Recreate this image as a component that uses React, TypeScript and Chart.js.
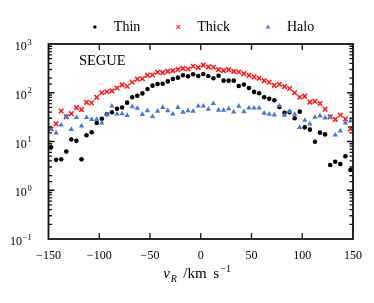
import React, { useEffect, useRef } from 'react';
import { Chart, registerables } from 'chart.js';

Chart.register(...registerables);

const SERIF = "'Liberation Serif', 'Times New Roman', serif";

// Bin centres of the radial velocity v_R (km/s)
const vR = [
  -147.5, -142.5, -137.5, -132.5, -127.5, -122.5, -117.5, -112.5, -107.5, -102.5,
  -97.5, -92.5, -87.5, -82.5, -77.5, -72.5, -67.5, -62.5, -57.5, -52.5,
  -47.5, -42.5, -37.5, -32.5, -27.5, -22.5, -17.5, -12.5, -7.5, -2.5,
  2.5, 7.5, 12.5, 17.5, 22.5, 27.5, 32.5, 37.5, 42.5, 47.5,
  52.5, 57.5, 62.5, 67.5, 72.5, 77.5, 82.5, 87.5, 92.5, 97.5,
  102.5, 107.5, 112.5, 117.5, 122.5, 127.5, 132.5, 137.5, 142.5, 147.5,
];

const thin = [
  7.6, 4.2, 4.3, 6.2, 11.0, 10.3, 4.3, 13.4, 15.5, 23.9,
  29.2, 36.3, 39.7, 47.1, 49.7, 62.6, 80.6, 87, 97, 119,
  140, 151, 153, 171, 191, 204, 228, 217, 239, 221,
  243, 220, 198, 224, 177, 177, 177, 138, 148, 125,
  104, 98, 81, 75, 70, 51, 39, 40, 30, 41,
  19.5, 17.5, 9.9, 15.2, 14.0, 3.3, 3.85, 3.45, 5.0, 2.6,
];

const thick = [
  18, 23.2, 42.2, 32, 37.2, 49.4, 45, 63.7, 61.6, 80.6,
  100, 105, 109, 125, 145, 136, 164, 191, 194, 228,
  231, 263, 258, 275, 284, 297, 317, 307, 349, 327,
  370, 340, 333, 297, 284, 297, 275, 267, 246, 228,
  211, 198, 177, 164, 142, 149, 134, 122, 100, 81,
  85, 64, 67, 60, 46, 32, 28.5, 35, 29, 18.2,
];

const halo = [
  18, 14.9, 21.8, 32.3, 17.7, 31, 20.8, 31, 28.5, 28.5,
  24, 35.8, 53.5, 36.6, 37, 34.4, 51.8, 48, 36, 43,
  32.5, 42, 50, 43, 36.6, 50, 40, 43, 42, 53.5,
  53.5, 46, 60, 44, 44, 47, 40.5, 53, 41, 48.5,
  48.7, 48.7, 38.2, 36.4, 35.2, 54, 34.8, 41.5, 36.3, 19.5,
  27.2, 22.9, 31.4, 33.4, 30.4, 31.8, 13.6, 16.4, 24, 26.3,
];

const seriesNames = ['Thin', 'Thick', 'Halo'];
const seriesColors = ['#000000', '#ff1a1a', '#4679d6'];
const yTickExps = [-1, 0, 1, 2, 3];
const yTickBase = '10';
const yTickExpText = ['\u22121', '0', '1', '2', '3'];
const annotation = 'SEGUE';
const xTitleParts = ['v', 'R', '/km', 's', '\u22121'];

function makeLegendImg(kind: number, color: string): HTMLCanvasElement {
  const c = document.createElement('canvas');
  c.width = 24;
  c.height = 10;
  const g = c.getContext('2d')!;
  const cx = 20;
  const cy = 5;
  g.fillStyle = color;
  g.strokeStyle = color;
  if (kind === 0) {
    g.beginPath();
    g.arc(cx, cy, 1.7, 0, Math.PI * 2);
    g.fill();
  } else if (kind === 1) {
    g.lineWidth = 1.1;
    g.beginPath();
    g.moveTo(cx - 1.8, cy - 1.8);
    g.lineTo(cx + 1.8, cy + 1.8);
    g.moveTo(cx + 1.8, cy - 1.8);
    g.lineTo(cx - 1.8, cy + 1.8);
    g.stroke();
  } else {
    g.beginPath();
    g.moveTo(cx, cy - 2.4);
    g.lineTo(cx - 2.2, cy + 1.6);
    g.lineTo(cx + 2.2, cy + 1.6);
    g.closePath();
    g.fill();
  }
  return c;
}

const decorPlugin = {
  id: 'decor',
  afterDatasetsDraw(chart: any) {
    const { ctx, chartArea: a, scales } = chart;
    const xs = scales.x;
    const ys = scales.y;
    ctx.save();
    ctx.strokeStyle = '#111';
    ctx.lineWidth = 1.3;
    ctx.beginPath();
    xs.ticks.forEach((t: any) => {
      const px = xs.getPixelForValue(t.value);
      if (px <= a.left + 1 || px >= a.right - 1) return;
      ctx.moveTo(px, a.bottom);
      ctx.lineTo(px, a.bottom - 6);
      ctx.moveTo(px, a.top);
      ctx.lineTo(px, a.top + 6);
    });
    ys.ticks.forEach((t: any) => {
      const py = ys.getPixelForValue(t.value);
      if (py <= a.top + 1 || py >= a.bottom - 1) return;
      const lg = Math.log10(t.value);
      const major = Math.abs(lg - Math.round(lg)) < 1e-6;
      const len = major ? 6 : 3.5;
      ctx.moveTo(a.left, py);
      ctx.lineTo(a.left + len, py);
      ctx.moveTo(a.right, py);
      ctx.lineTo(a.right - len, py);
    });
    ctx.stroke();
    ctx.lineWidth = 1.8;
    ctx.strokeRect(a.left, a.top, a.right - a.left, a.bottom - a.top);

    ctx.fillStyle = '#000';
    ctx.textBaseline = 'alphabetic';

    // y tick labels: 10 with raised exponent
    const labelRight = a.left - 16.8;
    yTickExps.forEach((e, i) => {
      const py = ys.getPixelForValue(Math.pow(10, e));
      ctx.textAlign = 'right';
      ctx.font = `8.5px ${SERIF}`;
      const ex = yTickExpText[i];
      const w = ctx.measureText(ex).width;
      ctx.fillText(ex, labelRight, py + 0.5);
      ctx.font = `12px ${SERIF}`;
      ctx.fillText(yTickBase, labelRight - w - 0.6, py + 6);
    });

    ctx.textAlign = 'left';
    ctx.font = `14.5px ${SERIF}`;
    ctx.fillText(annotation, xs.getPixelForValue(-120), a.top + 20.5);

    const cx = (a.left + a.right) / 2;
    const yb = a.bottom + 38.7;
    ctx.font = `italic 15px ${SERIF}`;
    ctx.fillText(xTitleParts[0], cx - 37.5, yb);
    ctx.font = `italic 10px ${SERIF}`;
    ctx.fillText(xTitleParts[1], cx - 30, yb + 4.5);
    ctx.font = `15px ${SERIF}`;
    ctx.fillText(xTitleParts[2], cx - 17.5, yb);
    ctx.fillText(xTitleParts[3], cx + 12.5, yb);
    ctx.font = `10px ${SERIF}`;
    ctx.fillText(xTitleParts[4], cx + 19.5, yb - 6);
    ctx.restore();
  },
};

export default function App() {
  const ref = useRef<HTMLCanvasElement | null>(null);

  useEffect(() => {
    if (!ref.current) return;
    const legendImgs = seriesColors.map((c, i) => makeLegendImg(i, c));
    const chart = new Chart(ref.current, {
      type: 'scatter',
      data: {
        datasets: [
          {
            label: seriesNames[0],
            data: vR.map((x, i) => ({ x, y: thin[i] })),
            pointStyle: 'circle',
            pointRadius: 2.3,
            pointBackgroundColor: seriesColors[0],
            pointBorderWidth: 0,
            borderColor: seriesColors[0],
            backgroundColor: seriesColors[0],
            showLine: false,
            order: 3,
          },
          {
            label: seriesNames[1],
            data: vR.map((x, i) => ({ x, y: thick[i] })),
            pointStyle: 'crossRot',
            pointRadius: 3.2,
            pointBorderColor: seriesColors[1],
            pointBorderWidth: 1.6,
            borderColor: seriesColors[1],
            backgroundColor: seriesColors[1],
            showLine: false,
            order: 2,
          },
          {
            label: seriesNames[2],
            data: vR.map((x, i) => ({ x, y: halo[i] })),
            pointStyle: 'triangle',
            pointRadius: 3.1,
            pointBackgroundColor: seriesColors[2],
            pointBorderWidth: 0,
            borderColor: seriesColors[2],
            backgroundColor: seriesColors[2],
            showLine: false,
            order: 1,
          },
        ],
      },
      options: {
        responsive: false,
        animation: false,
        devicePixelRatio: 1,
        layout: { padding: { top: 6, left: 28, right: 21, bottom: 0 } },
        plugins: {
          tooltip: { enabled: false },
          legend: {
            display: true,
            position: 'top',
            labels: {
              usePointStyle: true,
              pointStyleWidth: 40,
              padding: 10,
              color: '#000',
              font: { family: SERIF, size: 14 },
              generateLabels: (ch: any) =>
                ch.data.datasets.map((ds: any, i: number) => ({
                  text: ds.label,
                  pointStyle: legendImgs[i],
                  fillStyle: 'rgba(0,0,0,0)',
                  strokeStyle: 'rgba(0,0,0,0)',
                  lineWidth: 0,
                  hidden: false,
                  datasetIndex: i,
                  fontColor: '#000',
                })),
            },
          },
        },
        scales: {
          x: {
            type: 'linear',
            min: -150,
            max: 150,
            grid: { display: false, drawTicks: false },
            border: { display: false },
            ticks: {
              stepSize: 50,
              autoSkip: false,
              maxRotation: 0,
              padding: 10,
              color: '#000',
              font: { family: SERIF, size: 12 },
              callback: (v: any) => (Number(v) < 0 ? '\u2212' + Math.abs(Number(v)) : String(v)),
            },
            afterFit: (s: any) => {
              s.height = 64;
            },
          },
          y: {
            type: 'logarithmic',
            min: 0.1,
            max: 1000,
            grid: { display: false, drawTicks: false },
            border: { display: false },
            ticks: { display: false, autoSkip: false },
            afterFit: (s: any) => {
              s.width = 20.5;
              s.paddingTop = 44;
            },
          },
        },
      } as any,
      plugins: [decorPlugin],
    });
    return () => chart.destroy();
  }, []);

  return (
    <div style={{ position: 'fixed', left: 0, top: 0, width: 374, height: 303, background: '#fff' }}>
      <canvas ref={ref} width={374} height={303} style={{ display: 'block' }} />
    </div>
  );
}
